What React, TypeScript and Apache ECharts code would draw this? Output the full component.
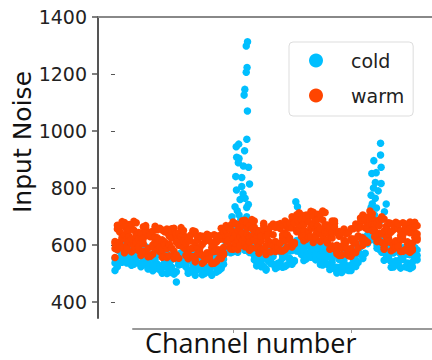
import React, { useEffect, useRef } from "react";
import * as echarts from "echarts";

const channels = [
  0, 20, 40, 60, 80, 100, 120, 140, 160, 180,
  200, 220, 240, 260, 280, 300, 320, 340, 360, 380,
  400, 420, 440, 460, 480, 500, 520, 540, 560, 580,
  600, 620, 640, 660, 680, 700, 720, 740, 760, 780,
  800, 820, 840, 860, 880, 900, 920, 940, 960, 980,
  1000, 1020, 1040, 1060, 1080, 1100, 1120, 1140, 1160, 1180,
  1200, 1220, 1240, 1260, 1280, 1300, 1320, 1340, 1360, 1380,
  1400, 1420, 1440, 1460, 1480, 1500, 1520, 1540, 1560, 1580,
  1600, 1620, 1640, 1660, 1680, 1700, 1720, 1740, 1760, 1780,
  1800, 1820, 1840, 1860, 1880, 1900, 1920, 1940, 1960, 1980,
  2000, 2020, 2040, 2060, 2080, 2100, 2120, 2140, 2160, 2180,
  2200, 2220, 2240, 2260, 2280, 2300, 2320, 2340, 2360, 2380,
  2400, 2420, 2440, 2460, 2480, 2500, 2520, 2540, 2560,
];

const warmA = [
  612, 584, 666, 622, 679, 601, 631, 576, 652, 613,
  581, 634, 605, 660, 566, 645, 593, 628, 654, 576,
  653, 611, 556, 631, 589, 659, 565, 642, 603, 635,
  584, 568, 614, 560, 604, 588, 632, 564, 543, 638,
  616, 535, 595, 619, 575, 621, 566, 668, 610, 594,
  585, 675, 616, 632, 670, 594, 660, 627, 689, 641,
  628, 650, 585, 676, 567, 644, 608, 665, 591, 602,
  606, 624, 684, 594, 661, 593, 684, 653, 669, 705,
  676, 620, 702, 658, 715, 637, 667, 612, 688, 649,
  607, 656, 625, 676, 576, 647, 589, 618, 640, 562,
  657, 621, 574, 659, 627, 705, 617, 698, 661, 694,
  650, 628, 668, 609, 648, 628, 678, 608, 585, 680,
  658, 577, 637, 661, 603, 643, 582, 680, 618,
];
const warmB = [
  588, 600, 646, 592, 636, 620, 672, 604, 583, 678,
  644, 563, 623, 647, 589, 629, 568, 666, 604, 584,
  557, 647, 588, 604, 642, 566, 632, 599, 661, 613,
  602, 624, 559, 650, 541, 618, 574, 631, 557, 568,
  564, 580, 636, 542, 619, 553, 646, 615, 631, 669,
  646, 590, 672, 628, 685, 607, 637, 582, 658, 619,
  589, 642, 613, 668, 574, 653, 601, 636, 662, 584,
  675, 635, 584, 663, 625, 699, 609, 690, 655, 689,
  652, 636, 682, 628, 672, 656, 708, 640, 619, 714,
  670, 585, 643, 663, 599, 631, 564, 656, 590, 570,
  561, 657, 606, 632, 680, 612, 684, 655, 719, 672,
  668, 684, 613, 699, 585, 658, 620, 675, 599, 610,
  606, 622, 678, 584, 647, 575, 662, 627, 639,
];
const warmC = [
  556, 669, 610, 626, 664, 588, 654, 621, 683, 635,
  620, 642, 577, 668, 559, 636, 600, 657, 583, 594,
  584, 600, 656, 562, 625, 553, 640, 605, 617, 651,
  608, 552, 634, 590, 647, 569, 591, 536, 612, 573,
  553, 606, 577, 632, 552, 637, 591, 630, 660, 586,
  681, 639, 584, 659, 617, 687, 593, 670, 631, 663,
  610, 594, 640, 586, 630, 614, 666, 598, 577, 672,
  658, 579, 643, 671, 617, 661, 604, 706, 648, 630,
  615, 705, 646, 662, 700, 624, 690, 657, 719, 671,
  646, 664, 597, 684, 569, 638, 596, 647, 569, 580,
  588, 610, 674, 590, 663, 599, 692, 661, 675, 710,
  674, 612, 688, 639, 691, 609, 637, 580, 654, 615,
  595, 648, 619, 674, 580, 659, 607, 642, 668,
];
const warmD = [
  606, 656, 591, 682, 573, 650, 614, 671, 597, 608,
  592, 608, 664, 570, 633, 561, 648, 613, 625, 659,
  618, 562, 644, 600, 657, 579, 609, 554, 630, 591,
  563, 616, 587, 642, 548, 627, 567, 602, 628, 550,
  633, 591, 536, 611, 583, 659, 571, 652, 617, 653,
  622, 606, 652, 598, 642, 626, 678, 610, 589, 684,
  652, 571, 631, 655, 597, 637, 576, 674, 612, 592,
  579, 671, 616, 636, 678, 606, 676, 647, 713, 667,
  670, 692, 627, 718, 609, 686, 650, 707, 633, 644,
  618, 630, 684, 586, 643, 563, 644, 603, 611, 645,
  622, 572, 662, 628, 695, 625, 661, 610, 688, 650,
  629, 676, 641, 691, 592, 667, 613, 646, 670, 592,
  675, 633, 578, 653, 611, 681, 587, 664, 625,
];

const coldA = [
  553, 524, 592, 561, 601, 546, 567, 529, 582, 555,
  537, 574, 552, 588, 520, 567, 527, 550, 568, 513,
  568, 539, 500, 553, 523, 572, 506, 560, 533, 555,
  524, 512, 545, 507, 538, 526, 563, 515, 500, 567,
  551, 494, 538, 559, 527, 566, 533, 611, 583, 579,
  576, 639, 597, 609, 635, 582, 628, 605, 613, 563,
  554, 570, 524, 588, 512, 565, 540, 580, 528, 536,
  540, 554, 595, 531, 579, 533, 599, 579, 593, 620,
  588, 551, 611, 578, 616, 557, 574, 532, 579, 546,
  532, 564, 539, 574, 506, 560, 521, 545, 563, 511,
  578, 556, 525, 588, 568, 627, 571, 635, 618, 645,
  617, 600, 623, 575, 591, 564, 593, 541, 523, 590,
  576, 519, 561, 578, 537, 566, 523, 591, 548,
];
const coldB = [
  537, 535, 578, 540, 571, 559, 596, 548, 533, 600,
  581, 524, 564, 579, 536, 556, 510, 576, 533, 519,
  501, 564, 522, 534, 560, 507, 553, 530, 573, 540,
  536, 552, 506, 570, 494, 547, 522, 562, 510, 518,
  515, 526, 567, 505, 558, 518, 589, 574, 598, 632,
  618, 579, 637, 606, 646, 591, 612, 574, 592, 548,
  527, 564, 544, 582, 516, 572, 535, 560, 578, 523,
  588, 562, 525, 580, 554, 607, 546, 605, 583, 608,
  572, 562, 597, 557, 586, 570, 603, 551, 530, 591,
  576, 514, 551, 565, 522, 549, 504, 571, 528, 517,
  511, 581, 547, 569, 605, 562, 618, 605, 658, 630,
  629, 640, 584, 638, 547, 585, 552, 588, 533, 541,
  540, 551, 590, 524, 568, 518, 579, 554, 563,
];
const coldC = [
  511, 584, 552, 564, 590, 537, 583, 560, 603, 570,
  564, 580, 532, 594, 516, 560, 532, 570, 518, 526,
  520, 531, 570, 504, 548, 498, 559, 534, 543, 567,
  540, 501, 559, 528, 568, 513, 534, 496, 549, 522,
  507, 544, 526, 568, 511, 577, 550, 585, 618, 573,
  643, 614, 575, 628, 598, 647, 581, 635, 573, 578,
  542, 530, 563, 525, 556, 544, 581, 533, 518, 585,
  576, 522, 566, 585, 548, 581, 543, 616, 578, 567,
  546, 611, 571, 581, 605, 548, 590, 563, 600, 561,
  559, 570, 519, 580, 502, 553, 526, 565, 513, 524,
  530, 548, 595, 539, 593, 553, 624, 609, 628, 657,
  633, 589, 637, 596, 621, 551, 564, 522, 572, 545,
  532, 569, 549, 587, 521, 577, 540, 565, 583,
];

const coldSpikeChannels = [
  1123, 1112, 1119, 1112, 1100, 1094, 1122, 1117, 1048, 1027, 1098, 1031, 1051, 1045,
  1088, 1131, 1023, 1074, 1140, 1074, 1029, 1102, 1017, 1116, 1051, 1116, 991, 1144,
  1060, 1036, 1085, 1010, 1130, 1066, 1005,
  520,
  1532, 1546, 1560,
  2250, 2250, 2193, 2255, 2176, 2213, 2206, 2255, 2170, 2205, 2298, 2170, 2283, 2240,
  2190, 2230, 2180, 2215, 2198,
];
const coldSpikeValues = [
  1313, 1298, 1223, 1206, 1146, 1126, 1070, 971, 954, 945, 931, 908, 904, 889,
  877, 873, 840, 837, 814, 805, 793, 764, 734, 732, 705, 699, 699, 678,
  760, 720, 780, 668, 742, 690, 655,
  470,
  752, 734, 700,
  957, 916, 896, 873, 851, 854, 819, 816, 775, 764, 744, 732, 717, 682,
  800, 790, 745, 730, 705,
];

const yTicks = [400, 600, 800, 1000, 1200, 1400];
const xTicks = [1000, 2000];
const seriesNames = ["cold", "warm"];

export default function App() {
  const ref = useRef<HTMLDivElement>(null);
  useEffect(() => {
    document.body.style.margin = "0";
    const chart = echarts.init(ref.current!, null, { renderer: "svg" });
    const cold: number[][] = [];
    channels.forEach((c, i) => {
      cold.push([c, coldA[i]], [c, coldB[i]], [c, coldC[i]]);
    });
    coldSpikeChannels.forEach((c, i) => cold.push([c, coldSpikeValues[i]]));
    const warm: number[][] = [];
    channels.forEach((c, i) => {
      warm.push([c, warmA[i]], [c, warmB[i]], [c, warmC[i]], [c, warmD[i]]);
    });

    chart.setOption({
      animation: false,
      grid: [
        { left: 98, top: 17, right: 0, bottom: 42 },
        { left: 133, top: 17, right: 0, bottom: 31 },
      ],
      xAxis: [
        { gridIndex: 0, type: "value", min: -144, max: 2686, show: false },
        {
          gridIndex: 0, type: "value", position: "top", min: -144, max: 2686,
          axisLine: { show: true, onZero: false, lineStyle: { color: "#888", width: 2 } },
          axisTick: { show: false }, axisLabel: { show: false }, splitLine: { show: false },
        },
        {
          gridIndex: 1, type: "value", min: 153, max: 2686,
          axisLine: { show: true, onZero: false, lineStyle: { color: "#999", width: 2 } },
          axisTick: { show: true, length: 4, customValues: xTicks, lineStyle: { color: "#999", width: 1 } },
          axisLabel: { show: false }, splitLine: { show: false },
        },
      ],
      yAxis: [
        {
          gridIndex: 0, type: "value", min: 344, max: 1400,
          axisLine: { show: true, onZero: false, lineStyle: { color: "#555", width: 2 } },
          axisTick: { show: true, length: 6, customValues: yTicks, lineStyle: { color: "#555", width: 1.5 } },
          axisLabel: {
            customValues: yTicks, fontSize: 19, fontFamily: "DejaVu Sans", color: "#222", margin: 11,
            formatter: (v: number) => String(v),
          },
          splitLine: { show: false },
        },
        {
          gridIndex: 0, type: "value", position: "right", min: 344, max: 1400,
          axisLine: { show: false },
          axisTick: { show: true, inside: true, length: 4, customValues: [400, 600, 800, 1000, 1200], lineStyle: { color: "#555" } },
          axisLabel: { show: false }, splitLine: { show: false },
        },
        { gridIndex: 1, type: "value", min: 0, max: 1, show: false },
      ],
      legend: {
        data: seriesNames,
        orient: "vertical",
        left: 289,
        top: 42,
        padding: [9, 9, 11, 20],
        itemWidth: 14,
        itemHeight: 14,
        itemGap: 16,
        icon: "circle",
        backgroundColor: "rgba(255,255,255,0.85)",
        borderColor: "#ddd",
        borderWidth: 1,
        borderRadius: 4,
        textStyle: { fontSize: 19, fontFamily: "DejaVu Sans", color: "#222", padding: [0, 0, 0, 23] },
      },
      graphic: [
        {
          type: "text", x: 22, y: 142, rotation: Math.PI / 2,
          style: { text: "Input Noise", fontSize: 25, fontFamily: "DejaVu Sans", fill: "#111", align: "center", verticalAlign: "middle" },
        },
        {
          type: "text", x: 145, y: 342,
          style: { text: "Channel number", fontSize: 27, fontFamily: "Open Sans", fill: "#111", align: "left", verticalAlign: "middle" },
        },
      ],
      series: [
        {
          type: "scatter", name: seriesNames[0], xAxisIndex: 0, yAxisIndex: 0,
          data: cold, symbolSize: 7.5, itemStyle: { color: "#00BFFF", opacity: 1 },
        },
        {
          type: "scatter", name: seriesNames[1], xAxisIndex: 0, yAxisIndex: 0,
          data: warm, symbolSize: 7.5, itemStyle: { color: "#FF4500", opacity: 1 },
        },
      ],
    });
    return () => chart.dispose();
  }, []);
  return <div ref={ref} style={{ position: "absolute", left: 0, top: 0, width: 432, height: 360 }} />;
}
